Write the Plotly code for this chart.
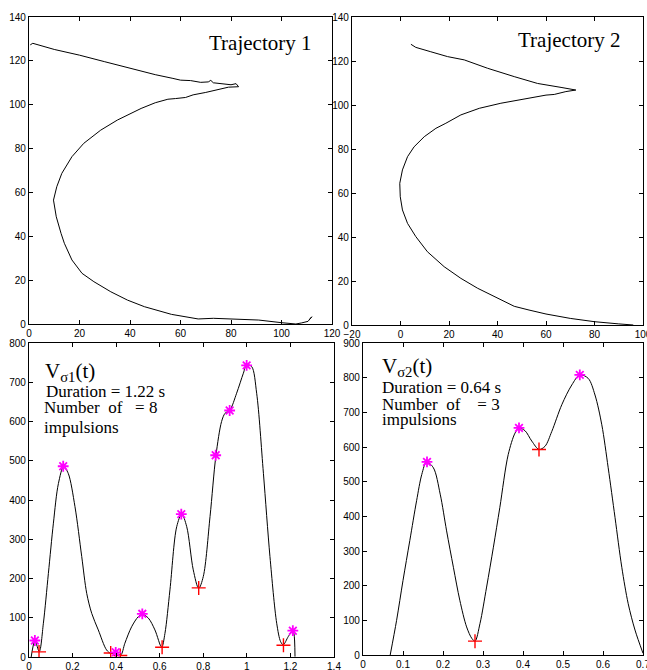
import plotly.graph_objects as go

W, H = 647, 670

# ---- data ----
traj1_x = [0.5, 1.5, 10, 20, 30, 40, 50, 57, 60, 64, 68, 71, 72, 73, 76, 80, 82, 83,
           79, 75, 70, 65, 62, 58, 55, 50, 44.4, 35, 28.4, 21.7, 17, 13, 11, 9.7, 10.8,
           12.7, 14, 17, 21, 25.7, 32.4, 39, 45.7, 56.4, 67, 73, 80, 91, 100, 105.7,
           108, 110.5, 112, 111]
traj1_y = [127.3, 128, 125.2, 122.6, 119.6, 116.6, 113.7, 112, 111.2, 111, 110.2, 110.4,
           111.1, 110, 109.5, 109.1, 109.6, 108.2, 108, 106.8, 105.6, 104.5, 103.3, 102.8,
           102.5, 100.9, 98.3, 93, 88.4, 82.4, 76.3, 68.7, 62.6, 56.5, 48.9, 41.3, 36.8,
           29.2, 23.1, 19.3, 14.7, 10.9, 7.9, 4.4, 2.3, 2.6, 2.3, 1.8, 0.6, 0, 0.5, 1.2,
           3.3, 2]

traj2_x = [4.3, 6.3, 12.5, 19.4, 26.3, 35.9, 46.9, 56.5, 66.2, 72.3, 68.2, 63.4, 60, 52.4,
           41.4, 32.5, 24.9, 18.7, 14.6, 9.8, 5.6, 2.9, 0.8, -0.3, -0.1, 0.8, 2.9, 6.3,
           11.1, 18, 24.9, 31.8, 38.7, 46.9, 53, 60, 70, 80, 90, 96]
traj2_y = [127.6, 126.2, 124.2, 122, 120.5, 116.7, 112.9, 109.8, 108, 106.8, 106.1, 104.8,
           104.5, 103, 100.8, 98.5, 95.5, 91.7, 89.4, 85.6, 81, 76.5, 70.5, 64.4, 58.3,
           52.3, 46.2, 40.2, 33.3, 26.5, 21.2, 16.7, 12.9, 8.5, 6.8, 5, 3, 1.5, 0.5, 0]

t1 = [0.01, 0.0275, 0.047, 0.066, 0.089, 0.112, 0.135, 0.159, 0.18, 0.211, 0.242, 0.265,
      0.288, 0.318, 0.356, 0.376, 0.398, 0.421, 0.44, 0.471, 0.502, 0.52, 0.548, 0.578,
      0.609, 0.624, 0.647, 0.678, 0.701, 0.724, 0.754, 0.779, 0.8, 0.831, 0.858, 0.884,
      0.9, 0.922, 0.953, 0.984, 0.999, 1.022, 1.045, 1.076, 1.106, 1.137, 1.155, 1.167,
      1.19, 1.21, 1.216, 1.221]
v1 = [0, 41, 14, 86, 213, 341, 442, 485, 468, 383, 256, 162, 111, 69, 18, 9, 11, 5, 35,
      77, 103, 109, 99, 69, 25, 60, 171, 332, 364, 332, 222, 175, 205, 358, 513, 600,
      621, 629, 672, 723, 744, 740, 672, 468, 256, 86, 39, 31, 52, 67, 60, 1]
max1_t = [0.027, 0.157, 0.398, 0.52, 0.699, 0.857, 0.921, 0.999, 1.211]
max1_v = [42, 486, 12, 110, 364, 514, 628, 743, 67]
min1_t = [0.046, 0.375, 0.419, 0.611, 0.779, 1.168]
min1_v = [13, 10, 4, 25, 176, 30]

t2 = [0.068, 0.084, 0.1, 0.117, 0.134, 0.147, 0.159, 0.176, 0.193, 0.209, 0.226, 0.242,
      0.259, 0.272, 0.28, 0.2925, 0.309, 0.326, 0.342, 0.363, 0.38, 0.39, 0.405, 0.422,
      0.44, 0.455, 0.472, 0.497, 0.522, 0.542, 0.563, 0.58, 0.597, 0.613, 0.63, 0.647,
      0.663, 0.68, 0.7]
v2 = [0, 100, 215, 330, 445, 521, 557, 540, 464, 358, 253, 158, 81, 48, 40, 91, 196, 311,
      425, 578, 640, 655, 647, 617, 593, 602, 645, 722, 779, 808, 798, 750, 664, 540, 397,
      253, 148, 72, 5]
max2_t = [0.16, 0.39, 0.542]
max2_v = [557, 655, 808]
min2_t = [0.28, 0.44]
min2_v = [40, 593]

# ---- figure ----
fig = go.Figure()
line = dict(color="black", width=1)
fig.add_trace(go.Scatter(x=traj1_x, y=traj1_y, mode="lines", line=line, xaxis="x", yaxis="y"))
fig.add_trace(go.Scatter(x=traj2_x, y=traj2_y, mode="lines", line=line, xaxis="x2", yaxis="y2"))
fig.add_trace(go.Scatter(x=t1, y=v1, mode="lines", line=dict(color="black", width=1, shape="spline", smoothing=0.9),
                         xaxis="x3", yaxis="y3"))
fig.add_trace(go.Scatter(x=t2, y=v2, mode="lines", line=dict(color="black", width=1, shape="spline", smoothing=0.9),
                         xaxis="x4", yaxis="y4"))

mag = dict(symbol="asterisk-open", size=9, line=dict(color="#ff00ff", width=1.8), color="#ff00ff")
red = dict(symbol="cross-thin-open", size=10, line=dict(color="#ff0000", width=1.4), color="#ff0000")
fig.add_trace(go.Scatter(x=min1_t, y=min1_v, mode="markers", marker=red, xaxis="x3", yaxis="y3"))
fig.add_trace(go.Scatter(x=max1_t, y=max1_v, mode="markers", marker=mag, xaxis="x3", yaxis="y3"))
fig.add_trace(go.Scatter(x=min2_t, y=min2_v, mode="markers", marker=red, xaxis="x4", yaxis="y4"))
fig.add_trace(go.Scatter(x=max2_t, y=max2_v, mode="markers", marker=mag, xaxis="x4", yaxis="y4"))

tickfont = dict(family="Liberation Sans Narrow, Arial Narrow, Liberation Sans, Arial", size=10, color="black")


def ax(domain, rng, dtick, anchor):
    return dict(domain=domain, range=rng, dtick=dtick, anchor=anchor, showgrid=False,
                zeroline=False, showline=True, linecolor="black", linewidth=1.2,
                mirror="allticks", ticks="inside", ticklen=4, tickcolor="black",
                tickwidth=1, tickfont=tickfont, automargin=False,
                ticklabeloverflow="allow")


def px(x):
    return x / W


def py(y):
    return 1 - y / H


fig.update_layout(
    width=W, height=H, margin=dict(l=0, r=0, t=0, b=0, pad=0),
    paper_bgcolor="white", plot_bgcolor="white", showlegend=False,
    xaxis=ax([px(29), px(332)], [0, 120], 20, "y"),
    yaxis=ax([py(324), py(17)], [0, 140], 20, "x"),
    xaxis2=ax([px(352), px(643)], [-20, 100], 20, "y2"),
    yaxis2=ax([py(325), py(17)], [0, 140], 20, "x2"),
    xaxis3=ax([px(29), px(334)], [0, 1.4], 0.2, "y3"),
    yaxis3=ax([py(657), py(343)], [0, 800], 100, "x3"),
    xaxis4=ax([px(363), px(643)], [0, 0.7], 0.1, "y4"),
    yaxis4=ax([py(655), py(343)], [0, 900], 100, "x4"),
)

serif = "Liberation Serif, Times New Roman, serif"
NB = "\u00a0"
notes = [
    ("Trajectory 1", 207, 43, 21),
    ("Trajectory 2", 516, 40, 21),
    ("V<sub>σ1</sub>(t)", 43, 372, 21),
    ("Duration = 1.22 s", 44, 391, 17),
    ("Number" + NB + NB + "of" + NB + NB + NB + "= 8", 42, 407, 17),
    ("impulsions", 42, 427, 17),
    ("V<sub>σ2</sub>(t)", 380, 367, 21),
    ("Duration = 0.64 s", 380, 387, 17),
    ("Number" + NB + NB + "of" + NB + NB + NB + NB + "= 3", 380, 404, 17),
    ("impulsions", 380, 419, 17),
]
for text, x, y, s in notes:
    fig.add_annotation(text=text, x=px(x), y=py(y), xref="paper", yref="paper",
                       xanchor="left", yanchor="middle", showarrow=False,
                       font=dict(family=serif, size=s, color="black"))

fig.write_html("out.html")
